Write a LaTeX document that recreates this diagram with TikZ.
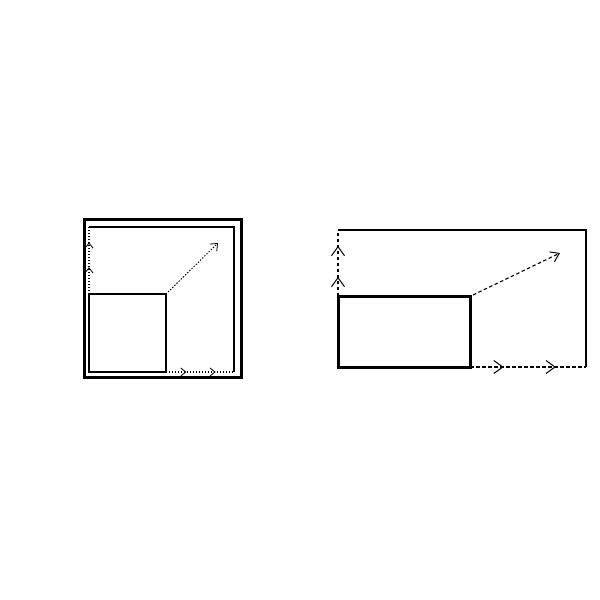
\documentclass[tikz,border=0pt]{standalone}
\usepackage{tikz}
\usetikzlibrary{arrows.meta,decorations.markings}

\tikzset{
    smalltip/.tip={Straight Barb[length=5pt,width=8pt,line width=0.8pt]},
    bigtip/.tip={Straight Barb[length=9pt,width=13pt,line width=1pt]},
    dots/.style={dash pattern=on 1.3pt off 1.7pt,line width=1.3pt},
    dashes/.style={dash pattern=on 3.5pt off 2.5pt,line width=1.3pt},
    two tips/.style n args={3}{postaction={decorate},decoration={markings,
        mark=at position #1 with {\arrow{#3}},
        mark=at position #2 with {\arrow{#3}}}}
}

\begin{document}
\begin{tikzpicture}[x=1pt,y=-1pt,line join=miter]
    \useasboundingbox (0,0) rectangle (600,600);

    % left: square in a square
    \draw[line width=3pt] (84,219) rectangle (241,377);
    \coordinate (lA) at (89,294);
    \coordinate (lB) at (166,372);
    \coordinate (lC) at (89,227);
    \coordinate (lD) at (234,372);
    \draw[line width=2pt] (lA) rectangle (lB);
    \draw[line width=2pt] (lC) -- (234,227) -- (lD);
    \draw[dots,two tips={0.4}{0.77}{smalltip}] (lA) -- (lC);
    \draw[dots,two tips={0.3}{0.73}{smalltip}] (lB) -- (lD);
    \draw[dots,line width=1pt,-{Straight Barb[length=6pt,width=10pt,line width=0.8pt]}]
        (168,292) -- (218,243);

    % right: rectangle in a rectangle
    \coordinate (rA) at (338,296);
    \coordinate (rB) at (470,367);
    \coordinate (rC) at (338,230);
    \coordinate (rD) at (586,367);
    \draw[line width=3pt] (rA) rectangle (rB);
    \draw[line width=2.7pt] (rC) -- (586,230) -- (rD);
    \draw[dashes,two tips={0.29}{0.76}{bigtip}] (rA) -- (rC);
    \draw[dashes,two tips={0.29}{0.74}{bigtip}] (rB) -- (rD);
    \draw[dashes,line width=1.1pt,-{Straight Barb[length=8pt,width=11pt,line width=1pt]}]
        (473,295) -- (560,253);
\end{tikzpicture}
\end{document}
